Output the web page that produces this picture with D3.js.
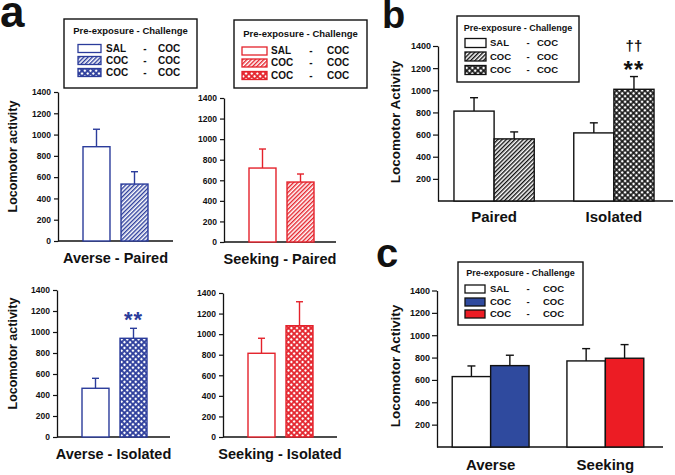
<!DOCTYPE html>
<html><head><meta charset="utf-8">
<script src="https://cdn.jsdelivr.net/npm/d3@7"></script>
<style>
body{margin:0;background:#fff;}
svg text{font-family:"Liberation Sans",Arial,sans-serif;font-weight:bold;}
</style></head><body>
<svg id="chart" width="675" height="475"></svg>
<script>
// ---------------- DATA ----------------
const legendTitle = "Pre-exposure - Challenge";
const legendPre = ["SAL", "COC", "COC"];
const legendChallenge = ["COC", "COC", "COC"];

const aPanelTitles = ["Averse - Paired", "Seeking - Paired", "Averse - Isolated", "Seeking - Isolated"];
const aGroups = ["SAL-COC", "COC-COC"];
const aSalMean = [886, 719, 464, 814];
const aSalSem  = [164, 185, 95, 146];
const aCocMean = [535, 583, 940, 1082];
const aCocSem  = [116, 78, 95, 233];
const aTicks = [0, 200, 400, 600, 800, 1000, 1200, 1400];

const bCategories = ["Paired", "Isolated"];
const bSalMean = [812, 615];
const bSalSem  = [121, 91];
const bCocMean = [561, 1009];
const bCocSem  = [63, 115];

const cCategories = ["Averse", "Seeking"];
const cSalMean = [630, 770];
const cSalSem  = [95, 110];
const cCocMean = [728, 794];
const cCocSem  = [93, 122];

const bcTicks = [200, 400, 600, 800, 1000, 1200, 1400];
const yMax = 1400;

// ---------------- DRAWING ----------------
const svg = d3.select("#chart");
const defs = svg.append("defs");
const BLUE = "#2b3c9b", RED = "#e4222b", BLACK = "#111111", CBLUE = "#2f4a9e", CRED = "#ec1c24";
const FONT = "'Liberation Sans', Arial, sans-serif";
const fmt = d3.format("d");

function makePatterns(name, color, size, hole) {
  const h = defs.append("pattern").attr("id", "hatch-" + name)
    .attr("patternUnits", "userSpaceOnUse").attr("width", 3).attr("height", 3)
    .attr("patternTransform", "rotate(45)");
  h.append("rect").attr("width", 3).attr("height", 3).attr("fill", "#fff");
  h.append("rect").attr("x", 0).attr("y", 0).attr("width", 1.4).attr("height", 3).attr("fill", color);
  const x = defs.append("pattern").attr("id", "xhatch-" + name)
    .attr("patternUnits", "userSpaceOnUse").attr("width", size).attr("height", size)
    .attr("patternTransform", "rotate(45)");
  x.append("rect").attr("width", size).attr("height", size).attr("fill", color);
  x.append("rect").attr("x", (size - hole) / 2).attr("y", (size - hole) / 2)
    .attr("width", hole).attr("height", hole).attr("fill", "#fff");
}
makePatterns("blue", BLUE, 4, 2.2);
makePatterns("red", RED, 4, 2.2);
makePatterns("black", BLACK, 4, 2.4);

function styleAxis(g, fs) {
  g.attr("font-family", FONT).attr("font-weight", "bold").attr("font-size", fs);
  g.select(".domain").attr("stroke", BLACK).attr("stroke-width", 1.3);
  g.selectAll(".tick line").attr("stroke", BLACK).attr("stroke-width", 1.2);
  g.selectAll(".tick text").attr("fill", BLACK);
}

function errorBars(g, data, xf, w, y, color, cap) {
  g.selectAll(null).data(data).enter().append("line")
    .attr("x1", d => xf(d) + w / 2).attr("x2", d => xf(d) + w / 2)
    .attr("y1", d => y(d.mean)).attr("y2", d => y(d.mean + d.sem))
    .attr("stroke", color).attr("stroke-width", 1.4);
  g.selectAll(null).data(data).enter().append("line")
    .attr("x1", d => xf(d) + w / 2 - cap / 2).attr("x2", d => xf(d) + w / 2 + cap / 2)
    .attr("y1", d => y(d.mean + d.sem)).attr("y2", d => y(d.mean + d.sem))
    .attr("stroke", color).attr("stroke-width", 1.4);
}

function legend(L) {
  const g = svg.append("g");
  g.append("rect").attr("x", L.x).attr("y", L.y).attr("width", L.w).attr("height", L.h)
    .attr("fill", "#fff").attr("stroke", BLACK).attr("stroke-width", 1.4);
  g.append("text").attr("x", L.x + L.w / 2).attr("y", L.titleY).attr("text-anchor", "middle")
    .attr("font-size", L.fs).attr("fill", BLACK).text(legendTitle);
  legendPre.forEach((p, k) => {
    const cy = L.rows[k];
    g.append("rect").attr("x", L.sx).attr("y", cy - L.sh / 2).attr("width", L.sw).attr("height", L.sh)
      .attr("fill", L.fills[k]).attr("stroke", L.strokes[k]).attr("stroke-width", 1.3);
    g.append("text").attr("x", L.tx).attr("y", cy + L.fs * 0.36).attr("font-size", L.efs).attr("fill", BLACK).text(p);
    g.append("text").attr("x", L.dx).attr("y", cy + L.fs * 0.36).attr("text-anchor", "middle").attr("font-size", L.efs).attr("fill", BLACK).text("-");
    g.append("text").attr("x", L.cx).attr("y", cy + L.fs * 0.36).attr("font-size", L.efs).attr("fill", BLACK).text(legendChallenge[k]);
  });
}

// ---- panel a ----
const aGeom = [
  {x0: 58, x1: 173, y0: 241, y1: 92},
  {x0: 224, x1: 336, y0: 242, y1: 98},
  {x0: 57, x1: 170, y0: 437, y1: 290},
  {x0: 223, x1: 337, y0: 437, y1: 293}
];
aGeom.forEach((G, i) => {
  const color = i % 2 === 0 ? BLUE : RED;
  const name = i % 2 === 0 ? "blue" : "red";
  const y = d3.scaleLinear().domain([0, yMax]).range([G.y0, G.y1]);
  const x = d3.scaleBand().domain(aGroups).range([G.x0 + 6, G.x0 + 109]).paddingInner(0.29).paddingOuter(0.5);
  const g = svg.append("g");
  const ax = g.append("g").attr("transform", `translate(${G.x0},0)`)
    .call(d3.axisLeft(y).tickValues(aTicks).tickFormat(fmt).tickSize(4).tickSizeOuter(0).tickPadding(3));
  styleAxis(ax, 8.5);
  g.append("line").attr("x1", G.x0).attr("x2", G.x1).attr("y1", y(0)).attr("y2", y(0))
    .attr("stroke", BLACK).attr("stroke-width", 1.3);
  const data = aGroups.map((k, j) => ({key: k, mean: j ? aCocMean[i] : aSalMean[i], sem: j ? aCocSem[i] : aSalSem[i], j}));
  errorBars(g, data, d => x(d.key), x.bandwidth(), y, color, 7);
  g.selectAll(null).data(data).enter().append("rect")
    .attr("x", d => x(d.key)).attr("width", x.bandwidth())
    .attr("y", d => y(d.mean)).attr("height", d => y(0) - y(d.mean))
    .attr("fill", d => d.j === 0 ? "#fff" : (i < 2 ? `url(#hatch-${name})` : `url(#xhatch-${name})`))
    .attr("stroke", color).attr("stroke-width", 1.4);
  g.append("text").attr("x", (G.x0 + G.x1) / 2).attr("y", G.y0 + 22).attr("text-anchor", "middle")
    .attr("font-size", 14.5).attr("fill", BLACK).text(aPanelTitles[i]);
  if (i % 2 === 0) {
    g.append("text").attr("transform", `translate(17,${(G.y0 + G.y1) / 2 - 10}) rotate(-90)`)
      .attr("text-anchor", "middle").attr("font-size", 12.5).attr("fill", BLACK).text("Locomotor activity");
  }
});
// significance in Averse - Isolated
{
  const G = aGeom[2];
  const y = d3.scaleLinear().domain([0, yMax]).range([G.y0, G.y1]);
  const x = d3.scaleBand().domain(aGroups).range([G.x0 + 6, G.x0 + 109]).paddingInner(0.29).paddingOuter(0.5);
  svg.append("text").attr("x", x(aGroups[1]) + x.bandwidth() / 2).attr("y", y(aCocMean[2] + aCocSem[2]) - 1)
    .attr("text-anchor", "middle").attr("font-size", 22).attr("fill", BLUE).attr("letter-spacing", 1).text("**");
}

legend({x: 64, y: 19, w: 133, h: 69, titleY: 34, fs: 9.5, efs: 10, rows: [48.5, 60.5, 72.5],
  sx: 78, sw: 23, sh: 8, tx: 106, dx: 145, cx: 158,
  fills: ["#fff", "url(#hatch-blue)", "url(#xhatch-blue)"], strokes: [BLUE, BLUE, BLUE]});
legend({x: 234, y: 20, w: 133, h: 68, titleY: 37, fs: 9.5, efs: 10, rows: [51, 63, 75.5],
  sx: 242, sw: 25, sh: 8, tx: 271, dx: 311, cx: 327,
  fills: ["#fff", "url(#hatch-red)", "url(#xhatch-red)"], strokes: [RED, RED, RED]});

svg.append("text").attr("x", 0).attr("y", 27).attr("font-size", 44).attr("fill", BLACK).text("a");
svg.append("text").attr("x", 382).attr("y", 28).attr("font-size", 38).attr("fill", BLACK).text("b");
svg.append("text").attr("x", 376).attr("y", 267).attr("font-size", 40).attr("fill", BLACK).text("c");

// ---- grouped panels b, c ----
function grouped(P) {
  const y = d3.scaleLinear().domain([0, yMax]).range([P.y0, P.y1]);
  const x0 = d3.scaleBand().domain(P.cats).range(P.bandRange).paddingInner(0.33).paddingOuter(0.15);
  const x1 = d3.scaleBand().domain(["SAL", "COC"]).range([0, x0.bandwidth()]);
  const g = svg.append("g");
  const ax = g.append("g").attr("transform", `translate(${P.ax},0)`)
    .call(d3.axisLeft(y).tickValues(bcTicks).tickFormat(fmt).tickSize(5).tickSizeOuter(0).tickPadding(2));
  styleAxis(ax, 9);
  g.append("line").attr("x1", P.ax).attr("x2", P.axEnd).attr("y1", y(0)).attr("y2", y(0))
    .attr("stroke", BLACK).attr("stroke-width", 1.3);
  const data = [];
  P.cats.forEach((c, k) => {
    data.push({cat: c, key: "SAL", mean: P.sal[k], sem: P.salSem[k], fill: "#fff"});
    data.push({cat: c, key: "COC", mean: P.coc[k], sem: P.cocSem[k], fill: P.cocFill[k]});
  });
  const xf = d => x0(d.cat) + x1(d.key);
  errorBars(g, data, xf, x1.bandwidth(), y, BLACK, 8);
  g.selectAll(null).data(data).enter().append("rect")
    .attr("x", xf).attr("width", x1.bandwidth())
    .attr("y", d => y(d.mean)).attr("height", d => y(0) - y(d.mean))
    .attr("fill", d => d.fill).attr("stroke", BLACK).attr("stroke-width", 1.4);
  g.selectAll(null).data(P.cats).enter().append("text")
    .attr("x", c => x0(c) + x0.bandwidth() / 2).attr("y", P.catY).attr("text-anchor", "middle")
    .attr("font-size", 15).attr("fill", BLACK).text(c => c);
  g.append("text").attr("transform", `translate(400,${P.titleCY}) rotate(-90)`)
    .attr("text-anchor", "middle").attr("font-size", 13.5).attr("fill", BLACK).text("Locomotor Activity");
  return {x0, x1, y};
}

const B = grouped({cats: bCategories, sal: bSalMean, salSem: bSalSem, coc: bCocMean, cocSem: bCocSem,
  cocFill: ["url(#hatch-black)", "url(#xhatch-black)"],
  y0: 201, y1: 46, ax: 438, axEnd: 673, bandRange: [436, 672], catY: 222, titleCY: 122});
{
  const cx = B.x0(bCategories[1]) + B.x1("COC") + B.x1.bandwidth() / 2;
  const top = B.y(bCocMean[1] + bCocSem[1]);
  svg.append("text").attr("x", cx).attr("y", top + 1).attr("text-anchor", "middle")
    .attr("font-size", 24).attr("fill", BLACK).attr("letter-spacing", 1).text("**");
  svg.append("text").attr("x", cx).attr("y", top - 26).attr("text-anchor", "middle")
    .attr("font-size", 15).attr("fill", BLACK).text("††");
}
legend({x: 457, y: 16, w: 122, h: 66, titleY: 31, fs: 9, efs: 9.5, rows: [43, 56.5, 70],
  sx: 465, sw: 21, sh: 9, tx: 490, dx: 528, cx: 537,
  fills: ["#fff", "url(#hatch-black)", "url(#xhatch-black)"], strokes: [BLACK, BLACK, BLACK]});

grouped({cats: cCategories, sal: cSalMean, salSem: cSalSem, coc: cCocMean, cocSem: cCocSem,
  cocFill: [CBLUE, CRED],
  y0: 447, y1: 290.5, ax: 437, axEnd: 663, bandRange: [435, 661], catY: 470, titleCY: 366});
legend({x: 458, y: 262, w: 125, h: 63, titleY: 276, fs: 9, efs: 9.5, rows: [289, 302, 314],
  sx: 465, sw: 20, sh: 8, tx: 490, dx: 528, cx: 543,
  fills: ["#fff", CBLUE, CRED], strokes: [BLACK, BLACK, BLACK]});
</script>
</body></html>
